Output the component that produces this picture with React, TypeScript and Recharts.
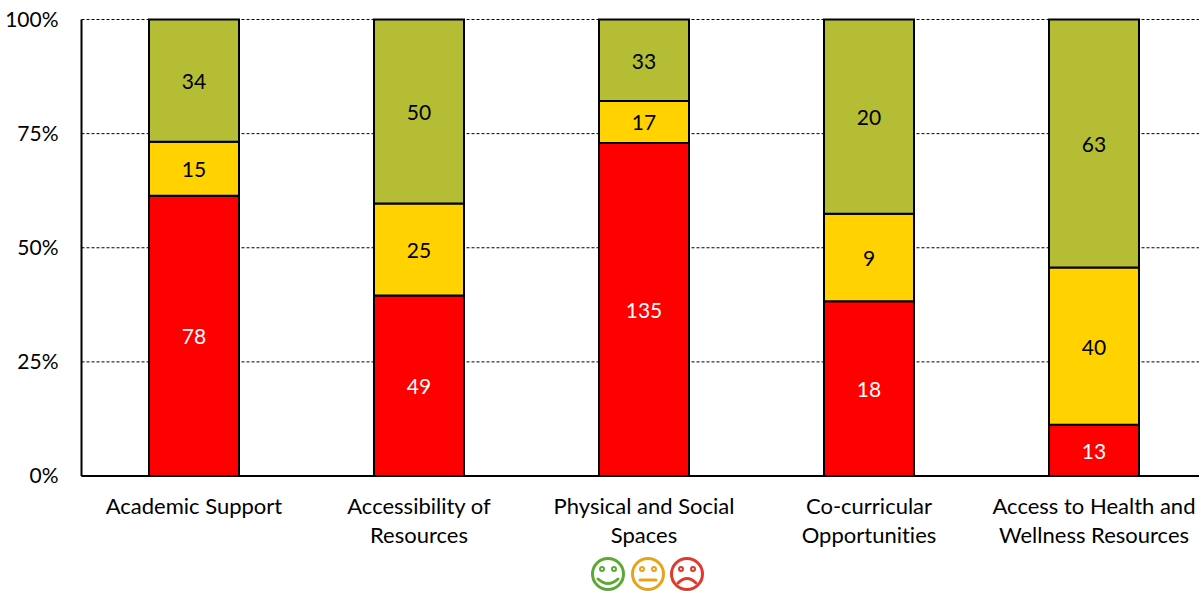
import { BarChart, Bar, CartesianGrid, LabelList, XAxis, YAxis } from "recharts";

const categories = [
  "Academic Support",
  "Accessibility of|Resources",
  "Physical and Social|Spaces",
  "Co-curricular|Opportunities",
  "Access to Health and|Wellness Resources",
];
const unhappyValues = [78, 49, 135, 18, 13];
const neutralValues = [15, 25, 17, 9, 40];
const happyValues = [34, 50, 33, 20, 63];
const percentTicks = [0, 0.25, 0.5, 0.75, 1];

const chartData = categories.map((name, i) => ({
  name,
  unhappy: unhappyValues[i],
  neutral: neutralValues[i],
  happy: happyValues[i],
}));

const FONT = "Lato, 'Open Sans', sans-serif";
const TEXT_SIZE = 21;

function CategoryTick({ x, y, payload }: any) {
  const lines = String(payload.value).split("|");
  return (
    <text
      x={x}
      y={y}
      textAnchor="middle"
      fill="#000"
      fontFamily={FONT}
      fontSize={22}
      style={{ fontVariantLigatures: "none" }}
    >
      {lines.map((line, i) => (
        <tspan key={line} x={x} dy={i === 0 ? 30 : 29}>
          {line}
        </tspan>
      ))}
    </text>
  );
}

function Face({ cx, color, mood }: { cx: number; color: string; mood: "happy" | "neutral" | "sad" }) {
  const cy = 574;
  const mouth =
    mood === "happy"
      ? `M${cx - 10} ${cy + 5} Q${cx} ${cy + 14} ${cx + 10} ${cy + 5}`
      : mood === "neutral"
        ? `M${cx - 8} ${cy + 6} L${cx + 8} ${cy + 6}`
        : `M${cx - 9} ${cy + 9} Q${cx} ${cy} ${cx + 9} ${cy + 9}`;
  return (
    <g fill="none" stroke={color} strokeWidth={3}>
      <circle cx={cx} cy={cy} r={15.5} />
      <circle cx={cx - 6} cy={cy - 5} r={2} strokeWidth={2} />
      <circle cx={cx + 6} cy={cy - 5} r={2} strokeWidth={2} />
      <path d={mouth} strokeLinecap="round" />
    </g>
  );
}

export default function App() {
  const labelStyle = { fontFamily: FONT, fontSize: TEXT_SIZE };
  return (
    <div style={{ position: "absolute", left: 0, top: 0, width: 1199, height: 591, overflow: "hidden", background: "#fff" }}>
      <BarChart
        width={1207}
        height={591}
        data={chartData}
        stackOffset="expand"
        barCategoryGap="30%"
        margin={{ top: 19.5, right: 0.5, bottom: 0, left: 0 }}
      >
        <CartesianGrid vertical={false} stroke="#000" strokeDasharray="3 2" strokeWidth={1} />
        <XAxis
          dataKey="name"
          interval={0}
          height={115}
          tick={<CategoryTick />}
          tickLine={false}
          axisLine={{ stroke: "#000", strokeWidth: 2 }}
        />
        <YAxis
          width={81.5}
          domain={[0, 1]}
          ticks={percentTicks}
          tickFormatter={(v: number) => `${v * 100}%`}
          tickLine={false}
          tickSize={0}
          tickMargin={23}
          axisLine={{ stroke: "#000", strokeWidth: 2 }}
          tick={{ fill: "#000", fontFamily: FONT, fontSize: TEXT_SIZE }}
        />
        <Bar dataKey="unhappy" stackId="a" fill="#FF0000" stroke="#000" strokeWidth={2} isAnimationActive={false}>
          <LabelList dataKey="unhappy" position="center" fill="#fff" dy={1} style={labelStyle} />
        </Bar>
        <Bar dataKey="neutral" stackId="a" fill="#FFD200" stroke="#000" strokeWidth={2} isAnimationActive={false}>
          <LabelList dataKey="neutral" position="center" fill="#000" dy={1} style={labelStyle} />
        </Bar>
        <Bar dataKey="happy" stackId="a" fill="#B5BD35" stroke="#000" strokeWidth={2} isAnimationActive={false}>
          <LabelList dataKey="happy" position="center" fill="#000" dy={1} style={labelStyle} />
        </Bar>
      </BarChart>
      <svg width={1199} height={591} style={{ position: "absolute", left: 0, top: 0, pointerEvents: "none" }}>
        <Face cx={608} color="#5BA935" mood="happy" />
        <Face cx={648} color="#E8A317" mood="neutral" />
        <Face cx={687} color="#E2392B" mood="sad" />
      </svg>
    </div>
  );
}
